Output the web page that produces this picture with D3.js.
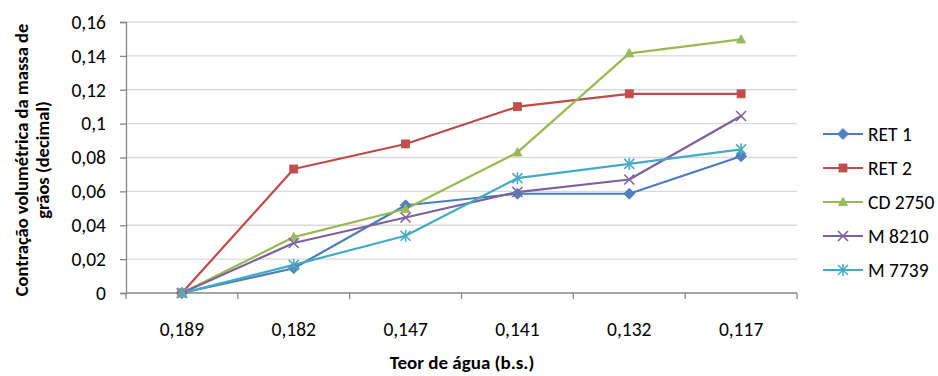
<!DOCTYPE html>
<html>
<head>
<meta charset="utf-8">
<script src="https://cdn.jsdelivr.net/npm/d3@7"></script>
<style>
  html, body { margin: 0; padding: 0; background: #fff; }
  svg { display: block; font-family: Carlito, Lato, "Liberation Sans", sans-serif; }
</style>
</head>
<body>
<svg id="chart" width="938" height="376"></svg>
<script>
// Moisture-content categories (dry basis), in the order measured
const categories = ["0,189", "0,182", "0,147", "0,141", "0,132", "0,117"];

// Volumetric shrinkage of the grain mass (decimal) per cultivar
const ret1  = [0, 0.0146, 0.0518, 0.0586, 0.0586, 0.0807];
const ret2  = [0, 0.0732, 0.0880, 0.1100, 0.1176, 0.1176];
const cd2750 = [0, 0.0330, 0.0496, 0.0830, 0.1415, 0.1497];
const m8210 = [0, 0.0295, 0.0446, 0.0596, 0.0670, 0.1045];
const m7739 = [0, 0.0166, 0.0338, 0.0678, 0.0762, 0.0848];

const yTicks = [0, 0.02, 0.04, 0.06, 0.08, 0.1, 0.12, 0.14, 0.16];

const series = [
  { name: "RET 1",   values: ret1,   line: "#4A7EBB", fill: "#4F81BD", marker: "diamond" },
  { name: "RET 2",   values: ret2,   line: "#BE4B48", fill: "#C0504D", marker: "square" },
  { name: "CD 2750", values: cd2750, line: "#98B954", fill: "#9BBB59", marker: "triangle" },
  { name: "M 8210",  values: m8210,  line: "#7D60A0", fill: "#8064A2", marker: "cross" },
  { name: "M 7739",  values: m7739,  line: "#46AAC5", fill: "#4BACC6", marker: "star" }
];

const svg = d3.select("#chart");
const plot = { left: 126, right: 797, top: 22, bottom: 293 };
const labelSize = 19.5;

const x = d3.scaleBand().domain(categories).range([plot.left, plot.right]);
const y = d3.scaleLinear().domain([0, 0.16]).range([plot.bottom, plot.top]);
const fmt = v => String(v).replace(".", ",");

// horizontal gridlines
svg.append("g")
  .selectAll("line")
  .data(yTicks.filter(d => d > 0))
  .join("line")
  .attr("x1", plot.left).attr("x2", plot.right)
  .attr("y1", d => y(d)).attr("y2", d => y(d))
  .attr("stroke", "#D9D9D9").attr("stroke-width", 1.3);

// y axis
const yAxis = svg.append("g")
  .attr("transform", `translate(${plot.left},0)`)
  .call(d3.axisLeft(y).tickValues(yTicks).tickFormat(fmt).tickSize(6).tickPadding(14));
yAxis.select(".domain").attr("stroke", "#868686").attr("stroke-width", 1.3);
yAxis.selectAll(".tick line").attr("stroke", "#868686").attr("stroke-width", 1.3);
yAxis.selectAll(".tick text").attr("font-size", labelSize).attr("fill", "#000")
  .attr("font-family", "Carlito, Lato, sans-serif");

// x axis with ticks on band boundaries
const xAxisG = svg.append("g").attr("transform", `translate(0,${plot.bottom})`);
xAxisG.append("line")
  .attr("x1", plot.left).attr("x2", plot.right)
  .attr("stroke", "#868686").attr("stroke-width", 1.3);
const bounds = categories.map(c => x(c)).concat([x(categories[categories.length - 1]) + x.bandwidth()]);
xAxisG.selectAll("line.tk").data(bounds).join("line").attr("class", "tk")
  .attr("x1", d => d).attr("x2", d => d).attr("y1", 0).attr("y2", 6)
  .attr("stroke", "#868686").attr("stroke-width", 1.3);
xAxisG.selectAll("text").data(categories).join("text")
  .attr("x", d => x(d) + x.bandwidth() / 2)
  .attr("y", 43)
  .attr("text-anchor", "middle")
  .attr("font-size", labelSize)
  .text(d => d);

// axis titles
svg.append("text")
  .attr("x", 462).attr("y", 369)
  .attr("text-anchor", "middle")
  .attr("font-size", 19).attr("font-weight", "bold")
  .text("Teor de água (b.s.)");

const yTitle = svg.append("text")
  .attr("transform", "translate(0,160) rotate(-90)")
  .attr("text-anchor", "middle")
  .attr("font-size", 18.5).attr("font-weight", "bold");
yTitle.append("tspan").attr("x", 0).attr("y", 28).text("Contração volumétrica da massa de");
yTitle.append("tspan").attr("x", 0).attr("y", 49).text("grãos (decimal)");

// marker shapes
function drawMarker(g, type, fill, stroke) {
  switch (type) {
    case "diamond":
      g.append("path").attr("d", "M0,-5.5L5.5,0L0,5.5L-5.5,0Z").attr("fill", fill).attr("stroke", stroke).attr("stroke-width", 0.8);
      break;
    case "square":
      g.append("rect").attr("x", -4).attr("y", -4).attr("width", 8).attr("height", 8).attr("fill", fill).attr("stroke", stroke).attr("stroke-width", 0.8);
      break;
    case "triangle":
      g.append("path").attr("d", "M0,-4.8L4.6,3.6L-4.6,3.6Z").attr("fill", fill).attr("stroke", stroke).attr("stroke-width", 0.8);
      break;
    case "cross":
      g.append("path").attr("d", "M-5,-5L5,5M-5,5L5,-5").attr("stroke", fill).attr("stroke-width", 1.6).attr("fill", "none");
      break;
    case "star":
      g.append("path").attr("d", "M-5,-5L5,5M-5,5L5,-5M0,-6L0,6").attr("stroke", fill).attr("stroke-width", 1.6).attr("fill", "none");
      break;
  }
}

const line = d3.line()
  .x((d, i) => x(categories[i]) + x.bandwidth() / 2)
  .y(d => y(d));

series.forEach(s => {
  svg.append("path")
    .datum(s.values)
    .attr("d", line)
    .attr("fill", "none")
    .attr("stroke", s.line)
    .attr("stroke-width", 2.2)
    .attr("stroke-linejoin", "round");
});
series.forEach(s => {
  s.values.forEach((v, i) => {
    const g = svg.append("g")
      .attr("transform", `translate(${x(categories[i]) + x.bandwidth() / 2},${y(v)})`);
    drawMarker(g, s.marker, s.fill, s.line);
  });
});

// legend
const legend = svg.append("g");
series.forEach((s, i) => {
  const cy = 134 + i * 34;
  const g = legend.append("g");
  g.append("line").attr("x1", 823).attr("x2", 863).attr("y1", cy).attr("y2", cy)
    .attr("stroke", s.line).attr("stroke-width", 2.2);
  const m = g.append("g").attr("transform", `translate(843,${cy})`);
  drawMarker(m, s.marker, s.fill, s.line);
  g.append("text").attr("x", 868).attr("y", cy + 7)
    .attr("font-size", labelSize).text(s.name);
});
</script>
</body>
</html>
